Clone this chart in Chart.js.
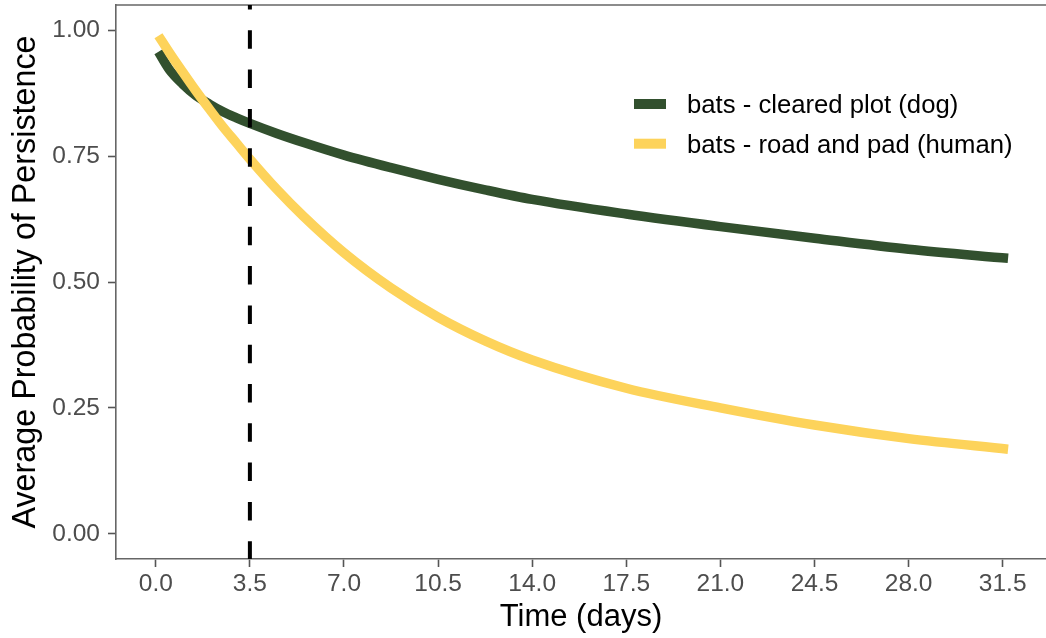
<!DOCTYPE html>
<html>
<head>
<meta charset="utf-8">
<script src="https://cdn.jsdelivr.net/npm/chart.js@4.4.1/dist/chart.umd.min.js"></script>
<style>
  html, body { margin: 0; padding: 0; background: #fff; }
  #wrap { width: 1046px; height: 638px; }
</style>
</head>
<body>
<div id="wrap"><canvas id="chart" width="1046" height="638"></canvas></div>
<script>
// values
const days = [0.1, 0.5, 1, 1.5, 2, 2.5, 3, 3.5, 4.5, 5.5, 7, 8.75, 10.5, 12.25, 14, 17.5, 21, 24.5, 28, 31.7];
const clearedPlotDog = [0.957, 0.922, 0.893, 0.870, 0.853, 0.838, 0.826, 0.815, 0.795, 0.777, 0.752, 0.727, 0.704, 0.683, 0.664, 0.635, 0.610, 0.587, 0.565, 0.547];
const roadPadHuman = [0.989, 0.956, 0.917, 0.879, 0.843, 0.808, 0.776, 0.744, 0.684, 0.630, 0.558, 0.488, 0.430, 0.383, 0.345, 0.289, 0.250, 0.216, 0.189, 0.168];
const seriesLabels = ['bats - cleared plot (dog)', 'bats - road and pad (human)'];
const xTicks = [0, 3.5, 7, 10.5, 14, 17.5, 21, 24.5, 28, 31.5];
const yTicks = [0, 0.25, 0.5, 0.75, 1];
const cutoffDay = 3.5;

const FONT = "'Liberation Sans', Arial, sans-serif";
Chart.defaults.font.family = FONT;

const toPoints = (vals) => days.map((d, i) => ({ x: d, y: vals[i] }));

// top edge of the panel box
const panelTop = {
  id: 'panelTop',
  beforeDatasetsDraw(chart) {
    const { ctx, chartArea } = chart;
    ctx.save();
    ctx.strokeStyle = '#666';
    ctx.lineWidth = 1.6;
    ctx.beginPath();
    ctx.moveTo(chartArea.left, chartArea.top);
    ctx.lineTo(chartArea.right, chartArea.top);
    ctx.stroke();
    ctx.restore();
  }
};

// dashed vertical line at the cutoff day
const cutoffLine = {
  id: 'cutoffLine',
  afterDatasetsDraw(chart) {
    const { ctx, chartArea, scales } = chart;
    const x = scales.x.getPixelForValue(cutoffDay);
    ctx.save();
    ctx.beginPath();
    ctx.setLineDash([18.5, 20.8]);
    ctx.lineDashOffset = 14;
    ctx.lineWidth = 4;
    ctx.strokeStyle = '#000';
    ctx.moveTo(x, chartArea.top);
    ctx.lineTo(x, chartArea.bottom);
    ctx.stroke();
    ctx.restore();
  }
};

// legend sitting inside the panel
const legendInPanel = {
  id: 'legendInPanel',
  afterDraw(chart) {
    const ctx = chart.ctx;
    ctx.save();
    ctx.font = '25.7px ' + FONT;
    ctx.textBaseline = 'middle';
    chart.data.datasets.forEach((ds, i) => {
      const y = 104 + i * 39.7;
      ctx.fillStyle = ds.borderColor;
      ctx.fillRect(634, y - 5, 32, 10);
      ctx.fillStyle = '#000';
      ctx.fillText(ds.label, 687, y + 1.8);
    });
    ctx.restore();
  }
};

new Chart(document.getElementById('chart'), {
  type: 'line',
  data: {
    datasets: [
      {
        label: seriesLabels[0],
        data: toPoints(clearedPlotDog),
        borderColor: '#32502e',
        borderWidth: 9.5,
        pointRadius: 0,
        cubicInterpolationMode: 'monotone',
        order: 1
      },
      {
        label: seriesLabels[1],
        data: toPoints(roadPadHuman),
        borderColor: '#fdd35b',
        borderWidth: 9.5,
        pointRadius: 0,
        cubicInterpolationMode: 'monotone',
        order: 0
      }
    ]
  },
  options: {
    responsive: false,
    animation: false,
    devicePixelRatio: 1,
    layout: { padding: { top: 5, right: 0, bottom: 0, left: 0 } },
    plugins: {
      legend: { display: false },
      tooltip: { enabled: false }
    },
    scales: {
      x: {
        type: 'linear',
        min: -1.48,
        max: 33.11,
        afterBuildTicks: (s) => { s.ticks = xTicks.map(v => ({ value: v })); },
        afterFit: (s) => { s.height = 79; s.paddingLeft = 0; s.paddingRight = 0; },
        ticks: {
          callback: (v) => Number(v).toFixed(1),
          color: '#4d4d4d',
          font: { size: 24.5 },
          padding: 3,
          maxRotation: 0,
          autoSkip: false
        },
        grid: { drawOnChartArea: false, drawTicks: true, tickLength: 8, tickColor: '#555', tickWidth: 1.6 },
        border: { color: '#666', width: 1.6 },
        title: { display: true, text: 'Time (days)', color: '#000', font: { size: 31 }, padding: { top: 0, bottom: 2 } }
      },
      y: {
        min: -0.05,
        max: 1.05,
        afterBuildTicks: (s) => { s.ticks = yTicks.map(v => ({ value: v })); },
        afterFit: (s) => { s.width = 116; s.paddingTop = 0; s.paddingBottom = 0; },
        ticks: {
          callback: (v) => Number(v).toFixed(2),
          color: '#4d4d4d',
          font: { size: 24.5 },
          padding: 8,
          autoSkip: false
        },
        grid: { drawOnChartArea: false, drawTicks: true, tickLength: 8, tickColor: '#555', tickWidth: 1.6 },
        border: { color: '#666', width: 1.6 },
        title: { display: true, text: 'Average Probability of Persistence', color: '#000', font: { size: 32.3 }, padding: { top: 6.5, bottom: 0 } }
      }
    }
  },
  plugins: [panelTop, cutoffLine, legendInPanel]
});
</script>
</body>
</html>
